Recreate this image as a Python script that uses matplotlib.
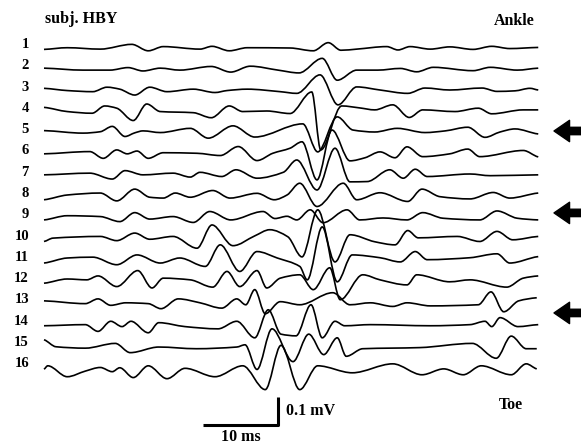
import numpy as np
import matplotlib
matplotlib.use("Agg")
import matplotlib.pyplot as plt
from matplotlib.path import Path
from matplotlib.patches import PathPatch

plt.rcParams['font.family'] = ['Liberation Serif', 'DejaVu Serif']

# extrema of each channel: time (ms), amplitude (uV)
t01 = [0,3.1,7.5,11.7,13.9,15.9,20.8,22.4,24.7,27.1,32.8,35.9,37.9,39.6,41.7,45.7,47.2,48.8,51.5,54.1,57.2,59.7,62.1,65.9]
a01 = [-5,1,-4,13,-10,5,-4,6,-10,1,0,-10,19,-8,-4,5,-7,5,-4,4,-5,6,-2,2]
t02 = [0,5.2,8.8,11.2,13.2,15.5,18.1,22.3,24.9,27.5,31.2,34.0,37.1,39.1,41.7,44.5,47.5,49.7,51.9,57.2,59.5,63.1,65.9]
a02 = [4,-3,-3,6,-6,4,-3,10,-10,11,-3,-13,39,-39,-3,-3,3,-9,7,-5,7,-3,4]
t03 = [0,3.1,6.5,8.4,10.1,12.1,14.1,16.4,19.9,22.8,24.4,27.1,31.5,33.7,36.8,39.2,41.7,44.8,48.5,50.8,54.1,58.4,60.4,62.8,64.8,65.9]
a03 = [8,0,-4,12,5,-16,12,-4,5,-7,0,5,-4,-10,56,-51,13,2,-10,9,2,9,-3,-1,8,2]
t04 = [0,3.1,6.4,8.1,9.7,11.9,13.7,15.5,19.9,22.3,24.7,26.5,29.7,32.8,35.7,36.9,39.7,42.1,44.1,46.5,48.7,50.5,54.8,57.9,59.7,63.9,65.9]
a04 = [16,1,-5,21,13,-31,28,1,-3,-21,21,1,3,-6,71,-136,21,14,7,25,-20,7,1,13,-7,7,7]
t05 = [0,5.2,7.5,9.1,10.8,12.1,13.2,15.5,19.5,21.9,25.2,28.1,34.5,36.5,39.1,41.2,44.1,47.1,50.8,53.5,56.5,58.8,60.8,62.8,65.9]
a05 = [9,0,5,24,-12,1,8,2,17,-18,26,-14,33,-67,58,11,4,17,2,8,21,-15,4,15,-3]
t06 = [0,6.1,7.9,9.7,11.1,12.4,13.9,15.9,20.4,23.5,25.9,28.4,30.5,32.8,34.4,36.4,38.4,40.8,42.8,44.8,46.8,48.4,50.5,54.1,56.5,58.1,63.9,65.9]
a06 = [2,10,-14,16,2,12,-14,6,4,-4,28,-22,4,22,45,-91,87,-23,-12,9,-12,27,-8,2,19,-8,14,-9]
t07 = [0,6.1,9.1,10.8,13.2,17.2,19.5,20.8,23.7,25.6,28.4,31.9,33.7,36.4,38.8,40.8,43.1,46.1,47.9,49.5,51.1,56.8,59.5,65.9]
a07 = [3,9,-12,18,3,9,-5,12,-3,21,-9,12,56,-51,98,-22,-21,21,-9,23,-3,6,0,3]
t08 = [0,3.1,7.5,9.7,12.1,14.1,15.9,17.5,19.5,22.5,24.8,28.4,30.7,32.4,34.1,36.4,39.9,41.7,44.8,48.5,50.4,52.8,56.8,59.9,62.1,65.9]
a08 = [-10,7,14,-14,28,-1,-4,14,-1,23,-4,13,-10,7,49,-34,49,-10,15,-16,28,1,-7,16,-4,14]
t09 = [0,3.1,7.5,10.1,12.1,14.1,17.2,19.9,22.1,24.9,29.2,30.8,32.4,33.7,35.5,37.2,40.4,42.1,45.2,48.4,50.5,53.2,58.1,60.4,63.1,65.9]
a09 = [-6,9,6,-12,20,-3,6,-15,24,-6,24,-1,7,-6,30,-16,30,-6,1,-6,20,0,-6,26,0,-6]
t10 = [0,1.2,7.5,9.7,12.1,14.1,17.2,20.4,22.4,25.2,28.1,30.1,32.5,34.4,36.5,38.8,40.8,44.1,46.8,48.5,49.9,55.1,58.1,60.4,62.5,65.9]
a10 = [-7,5,11,-4,23,1,11,-31,52,-22,13,35,10,-62,106,-80,17,-8,-19,32,6,11,-7,29,-1,11]
t11 = [0,3.1,6.5,9.7,12.4,15.5,18.1,21.5,23.5,26.1,28.4,31.1,34.1,35.1,37.1,39.1,41.1,44.8,47.5,49.5,51.1,56.8,60.4,62.1,65.9]
a11 = [-8,10,13,-14,21,-8,10,-20,57,-38,33,10,-20,-68,121,-75,21,11,-4,33,4,11,25,-8,15]
t12 = [0,3.1,5.7,7.2,9.7,12.5,14.4,15.9,19.5,22.5,24.4,26.1,28.4,29.7,31.5,34.1,35.9,38.1,39.5,42.5,44.8,48.4,49.7,54.1,56.8,61.7,63.9,65.9]
a12 = [-4,11,8,22,-16,41,-21,14,8,-18,38,-16,41,-21,14,26,-27,51,-63,26,8,-10,26,1,8,-18,14,22]
t13 = [0,5.5,7.2,8.9,10.9,13.9,15.6,17.9,20.8,23.7,25.7,26.9,28.1,29.5,31.5,34.1,38.5,40.8,43.5,46.5,48.4,51.5,57.9,59.6,61.3,63.3,65.7]
a13 = [9,-1,16,-7,2,-1,-19,16,2,-17,16,-5,49,-37,6,-5,38,-5,2,-11,2,-9,-5,41,-30,9,20]
t14 = [0,5.5,7.2,8.9,10.4,11.6,13.9,15.3,18.8,23.2,25.7,28.1,29.9,31.6,33.6,35.6,37.1,38.8,40.1,43.5,51.5,56.8,58.8,59.7,60.8,63.2,65.9]
a14 = [-4,0,-24,12,-7,12,-29,7,-7,-15,12,-47,53,-34,-40,71,-47,12,-4,0,-4,0,12,-7,25,-7,0]
t15 = [0,1.6,5.5,9.5,11.5,15.3,20.3,25.7,26.8,28.4,30.4,33.2,35.3,37.3,39.1,40.3,42.5,50.1,57.1,60.3,62.3,64.3,65.7]
a15 = [22,-3,-8,9,-24,-4,-10,-4,4,-84,61,-56,42,-31,29,-37,-10,-6,9,-44,35,-10,-10]
t16 = [0,0.5,3.1,5.5,7.5,9.1,10.1,11.9,13.9,16.4,18.8,22.8,26.5,29.5,31.6,34.1,36.5,41.1,46.5,50.4,53.3,55.9,58.3,62.3,64.3,65.7]
a16 = [-7,5,-34,-14,-1,-16,-2,-37,5,-41,-4,-34,5,-80,78,-80,5,-20,12,-27,-6,-27,5,-27,12,-6]

times = [t01,t02,t03,t04,t05,t06,t07,t08,t09,t10,t11,t12,t13,t14,t15,t16]
amps = [a01,a02,a03,a04,a05,a06,a07,a08,a09,a10,a11,a12,a13,a14,a15,a16]
ch_labels = [str(i) for i in range(1, 17)]
arrow_rows = [4.9, 8.75, 13.45]   # channel positions the arrows point at
gap = 76           # uV between traces
bar_ms, bar_uv = 10, 100

def trace_path(t, a, off):
    # monotone cubic (flat at the extrema) drawn as bezier segments
    t = np.asarray(t, float); y = np.asarray(a, float) + off
    d = np.diff(y) / np.diff(t)
    m = np.zeros_like(y)
    for i in range(1, len(y) - 1):
        if d[i-1] * d[i] > 0:
            m[i] = 2 / (1/d[i-1] + 1/d[i])
    m[0], m[-1] = d[0] * 0.5, d[-1] * 0.5
    verts = [(t[0], y[0])]; codes = [Path.MOVETO]
    for i in range(len(t) - 1):
        h = (t[i+1] - t[i]) / 3
        verts += [(t[i] + h, y[i] + m[i]*h), (t[i+1] - h, y[i+1] - m[i+1]*h), (t[i+1], y[i+1])]
        codes += [Path.CURVE4] * 3
    return Path(verts, codes)

# px layout: 7.5 px per ms, 0.28 px per uV, first trace at y=48 px, left edge at x=44 px
fig = plt.figure(figsize=(5.81, 4.44), dpi=100)
ax = fig.add_axes([0, 0, 1, 1])
ax.set_xlim(-44/7.5, (581-44)/7.5)
ax.set_ylim(-(444-48)/0.28, 48/0.28)
ax.axis('off')

for k, (t, a) in enumerate(zip(times, amps)):
    off = -k * gap
    ax.add_patch(PathPatch(trace_path(t, a, off), fc='none', ec='black', lw=1.2))
    ax.text(-2.0, off, ch_labels[k], ha='right', va='baseline', fontsize=10.5, fontweight='bold')

for r in arrow_rows:
    y = -(r - 1) * gap
    ax.annotate('', xy=(68.0, y), xytext=(72.5, y),
                arrowprops=dict(arrowstyle='simple,head_length=0.8,head_width=1.1,tail_width=0.38',
                                color='black', mutation_scale=14, shrinkA=0, shrinkB=0))

# scale bar
x0 = 21.2; y0 = -(425-48)/0.28
ax.plot([x0, x0+bar_ms, x0+bar_ms], [y0, y0, y0+bar_uv], color='black', lw=2.2, solid_capstyle='butt')
ax.text(x0+bar_ms+1.0, y0+bar_uv*0.5, '0.1 mV', ha='left', va='center', fontsize=11.5, fontweight='bold')
ax.text(x0+bar_ms*0.5, y0-42, '10 ms', ha='center', va='center', fontsize=11.5, fontweight='bold')

fig.text(45/581, 1-23/444, 'subj. HBY', ha='left', va='baseline', fontsize=11.5, fontweight='bold')
fig.text(535/581, 1-25/444, 'Ankle', ha='right', va='baseline', fontsize=11.5, fontweight='bold')
fig.text(511/581, 1-405/444, 'Toe', ha='center', va='center', fontsize=11.5, fontweight='bold')

fig.savefig('out.png', dpi=100)
